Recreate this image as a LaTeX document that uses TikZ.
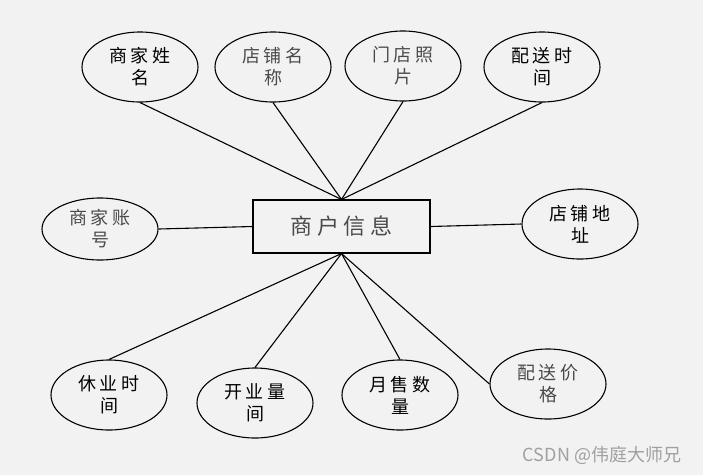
\documentclass[tikz,border=0pt]{standalone}
\usepackage{fontspec}
\newfontfamily\cjk{Noto Sans CJK SC}
\newfontfamily\cjkwide[LetterSpace=22]{Noto Sans CJK SC}
\usetikzlibrary{shapes.geometric}
\definecolor{bggray}{HTML}{F2F2F2}
\definecolor{lightink}{HTML}{4A4A4A}
\definecolor{markgray}{HTML}{A0A0A0}
\begin{document}
\begin{tikzpicture}[x=1pt, y=-1pt, line width=1.1pt,
    attr/.style={draw, ellipse, minimum width=116pt, minimum height=70pt, inner sep=0pt,
                 align=center, font=\cjkwide\fontsize{18}{22}\selectfont},
    thin attr/.style={attr, text=lightink},
    entity/.style={draw, rectangle, minimum width=177pt, minimum height=53pt,
                   font=\cjkwide\fontsize{22}{26}\selectfont, text=lightink}]
        % 背景
        \fill[bggray] (0,0) rectangle (703,475);

        % 实体
        \node[entity] (info) at (341.5,226.5) {商户信息};

        % 属性节点
        \node[attr] (name) at (140,67) {商家姓\\名};
        \node[thin attr] (shopname) at (273,67) {店铺名\\称};
        \node[thin attr] (photo) at (403,66) {门店照\\片};
        \node[attr] (sendtime) at (542,67) {配送时\\间};
        \node[thin attr, minimum height=62pt] (account) at (100,229) {商家账\\号};
        \node[attr] (address) at (580,224) {店铺地\\址};
        \node[attr] (rest) at (109,395) {休业时\\间};
        \node[attr] (open) at (255,403) {开业量\\间};
        \node[attr] (sales) at (400,395) {月售数\\量};
        \node[thin attr] (price) at (548,384) {配送价\\格};

        % 连线
        \draw (name.south) -- (info.north);
        \draw (shopname.south) -- (info.north);
        \draw (photo.south) -- (info.north);
        \draw (sendtime.south) -- (info.north);
        \draw (account.east) -- (info.west);
        \draw (info.east) -- (address.west);
        \draw (rest.north) -- (info.south);
        \draw (open.north) -- (info.south);
        \draw (sales.north) -- (info.south);
        \draw (price.west) -- (info.south);

        % 水印
        \node[text=markgray, font=\cjk\fontsize{18}{20}\selectfont] (mark) at (602,455) {CSDN @伟庭大师兄};
    \end{tikzpicture}
\end{document}
